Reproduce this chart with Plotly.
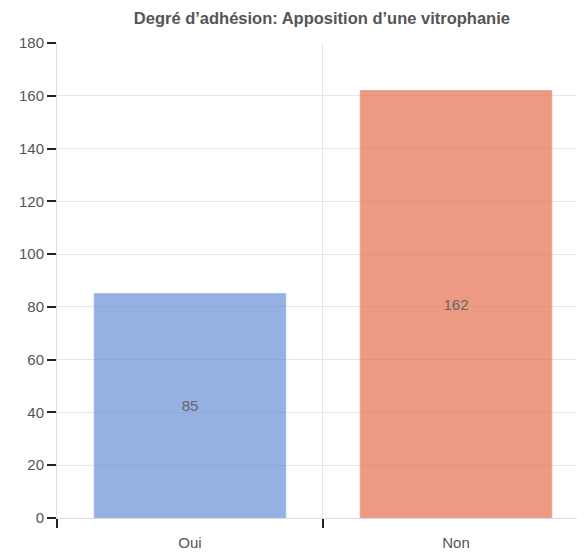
import plotly.graph_objects as go

categories = ["Oui", "Non"]
values = [85, 162]
fill_colors = ["rgba(106,143,216,0.7)", "rgba(228,111,79,0.7)"]
line_colors = ["rgba(150,178,230,0.9)", "rgba(236,160,140,0.9)"]

fig = go.Figure(go.Bar(
    x=categories, y=values, width=0.72,
    marker=dict(color=fill_colors, line=dict(color=line_colors, width=1)),
    text=[str(v) for v in values], textposition="inside", insidetextanchor="middle",
    textfont=dict(color="#666", size=15, family="Liberation Sans, Arial"),
    hoverinfo="skip",
))

fig.update_layout(
    width=577, height=544,
    margin=dict(l=49, r=0, t=35, b=34),
    paper_bgcolor="white", plot_bgcolor="white",
    font=dict(family="Liberation Sans, Arial", color="#555", size=15),
    title=dict(text="<b>Degré d’adhésion: Apposition d’une vitrophanie</b>",
               x=0.544, xanchor="center", xref="container",
               y=0.981, yanchor="middle",
               font=dict(size=16.5, color="#555")),
    showlegend=False,
)
fig.update_xaxes(range=[-0.5, 1.485], tickson="boundaries", ticks="outside", ticklen=9,
                 tickcolor="#222", tickwidth=1.5, showgrid=True, gridcolor="#e6e6e6",
                 showline=True, linecolor="#ddd", tickfont=dict(size=15, color="#555"),
                 ticklabelstandoff=11, zeroline=False)
fig.update_yaxes(range=[0, 180], dtick=20, ticks="outside", ticklen=9, tickcolor="#222",
                 tickwidth=1.5, showgrid=True, gridcolor="#e6e6e6", showline=True,
                 linecolor="#ddd", zeroline=False, tickfont=dict(size=15, color="#555"))

fig.write_html("out.html")
